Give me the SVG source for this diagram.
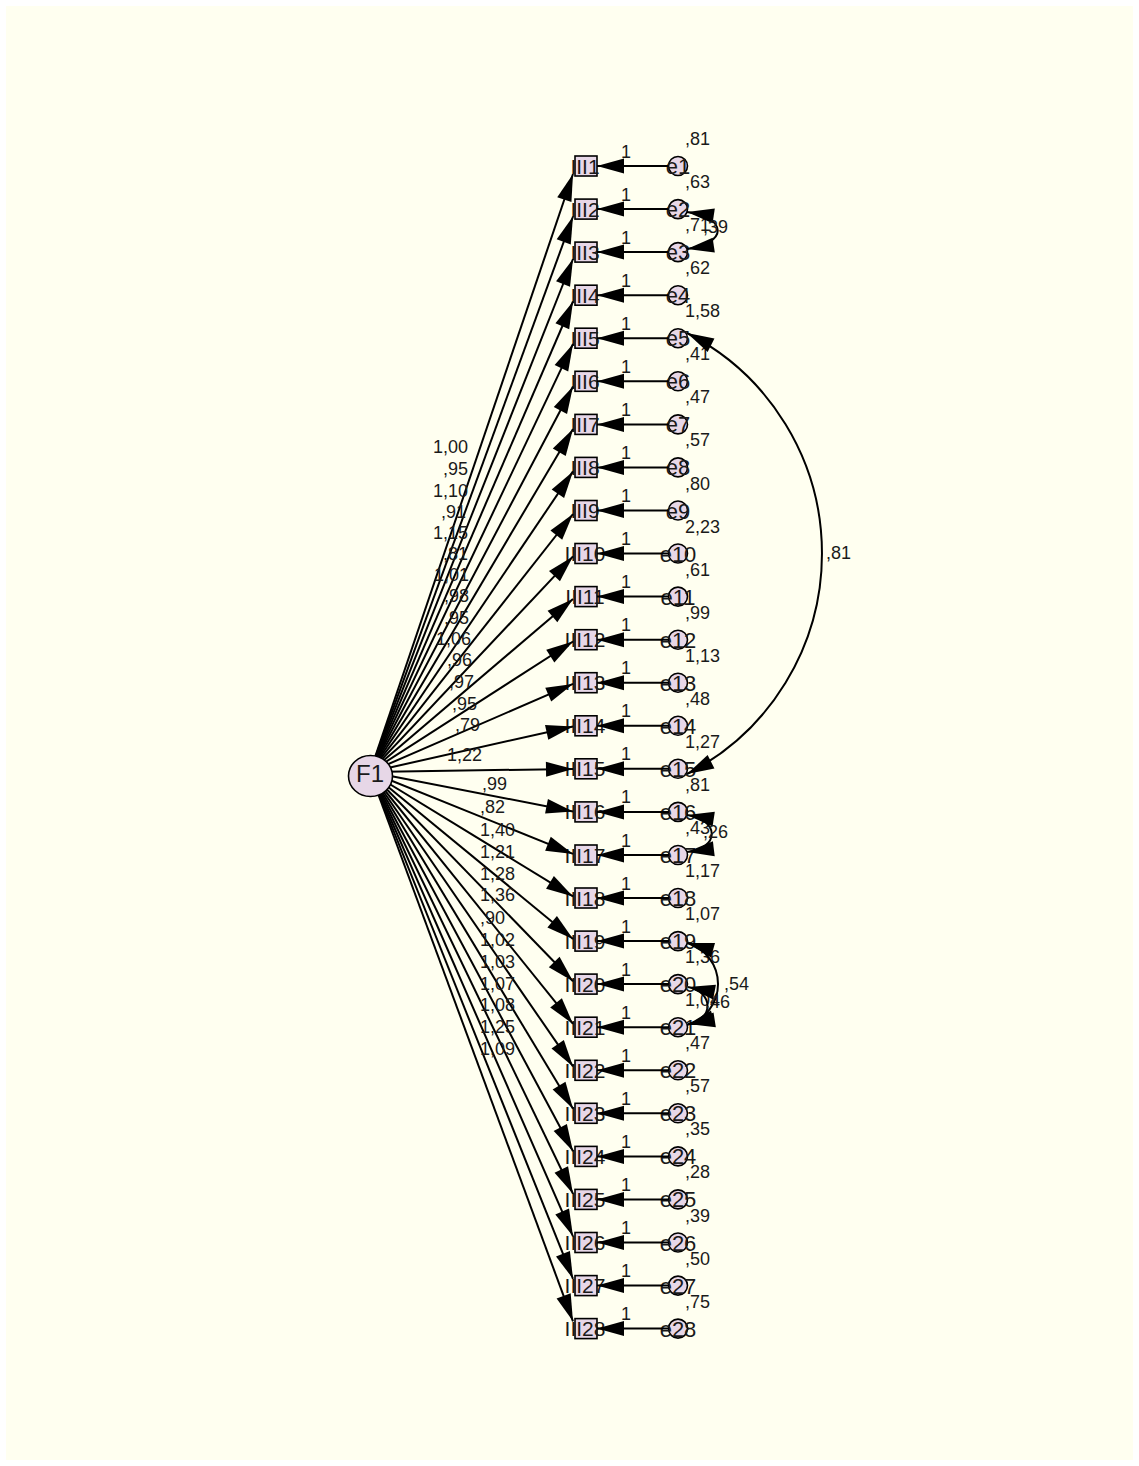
<svg xmlns="http://www.w3.org/2000/svg" width="1139" height="1466" viewBox="0 0 1139 1466">
<style>
text{font-family:"Liberation Sans",Arial,sans-serif;fill:#1a1a1a}
.item rect{fill:#E7D7E7;stroke:#000;stroke-width:1.6}
.item text{font-size:21px;text-anchor:middle}
.err circle{fill:#E7D7E7;stroke:#000;stroke-width:1.6}
.err text{font-size:22px;text-anchor:middle}
.err text.v{font-size:18px;text-anchor:start}
.ld{stroke:#000;stroke-width:2;fill:none;marker-end:url(#ah)}
.cv{stroke:#000;stroke-width:2;fill:none;marker-end:url(#ah);marker-start:url(#ahs)}
.one{font-size:18px;text-anchor:middle}
.lt{font-size:18px;text-anchor:end}
.lb{font-size:18px;text-anchor:start}
</style>
<defs>
<marker id="ah" markerUnits="userSpaceOnUse" markerWidth="30" markerHeight="18" refX="27" refY="7.5" orient="auto" overflow="visible"><path d="M0,0 L27,7.5 L0,15 z" fill="#000"/></marker>
<marker id="ahs" markerUnits="userSpaceOnUse" markerWidth="30" markerHeight="18" refX="27" refY="7.5" orient="auto-start-reverse" overflow="visible"><path d="M0,0 L27,7.5 L0,15 z" fill="#000"/></marker>
</defs>
<rect x="0" y="0" width="1139" height="1466" fill="#ffffff"/>
<rect x="6" y="6" width="1127" height="1454" fill="#FFFFF0"/>

<g id="items">
<g id="III1" class="item"><rect x="575" y="156" width="22" height="20"/><text x="585" y="173.5">III1</text></g>
<g id="III2" class="item"><rect x="575" y="199.1" width="22" height="20"/><text x="585" y="216.6">III2</text></g>
<g id="III3" class="item"><rect x="575" y="242.1" width="22" height="20"/><text x="585" y="259.6">III3</text></g>
<g id="III4" class="item"><rect x="575" y="285.2" width="22" height="20"/><text x="585" y="302.7">III4</text></g>
<g id="III5" class="item"><rect x="575" y="328.2" width="22" height="20"/><text x="585" y="345.7">III5</text></g>
<g id="III6" class="item"><rect x="575" y="371.3" width="22" height="20"/><text x="585" y="388.8">III6</text></g>
<g id="III7" class="item"><rect x="575" y="414.4" width="22" height="20"/><text x="585" y="431.9">III7</text></g>
<g id="III8" class="item"><rect x="575" y="457.4" width="22" height="20"/><text x="585" y="474.9">III8</text></g>
<g id="III9" class="item"><rect x="575" y="500.5" width="22" height="20"/><text x="585" y="518">III9</text></g>
<g id="III10" class="item"><rect x="575" y="543.5" width="22" height="20"/><text x="585" y="561">III10</text></g>
<g id="III11" class="item"><rect x="575" y="586.6" width="22" height="20"/><text x="585" y="604.1">III11</text></g>
<g id="III12" class="item"><rect x="575" y="629.7" width="22" height="20"/><text x="585" y="647.2">III12</text></g>
<g id="III13" class="item"><rect x="575" y="672.7" width="22" height="20"/><text x="585" y="690.2">III13</text></g>
<g id="III14" class="item"><rect x="575" y="715.8" width="22" height="20"/><text x="585" y="733.3">III14</text></g>
<g id="III15" class="item"><rect x="575" y="758.8" width="22" height="20"/><text x="585" y="776.3">III15</text></g>
<g id="III16" class="item"><rect x="575" y="801.9" width="22" height="20"/><text x="585" y="819.4">III16</text></g>
<g id="III17" class="item"><rect x="575" y="845" width="22" height="20"/><text x="585" y="862.5">III17</text></g>
<g id="III18" class="item"><rect x="575" y="888" width="22" height="20"/><text x="585" y="905.5">III18</text></g>
<g id="III19" class="item"><rect x="575" y="931.1" width="22" height="20"/><text x="585" y="948.6">III19</text></g>
<g id="III20" class="item"><rect x="575" y="974.1" width="22" height="20"/><text x="585" y="991.6">III20</text></g>
<g id="III21" class="item"><rect x="575" y="1017.2" width="22" height="20"/><text x="585" y="1034.7">III21</text></g>
<g id="III22" class="item"><rect x="575" y="1060.3" width="22" height="20"/><text x="585" y="1077.8">III22</text></g>
<g id="III23" class="item"><rect x="575" y="1103.3" width="22" height="20"/><text x="585" y="1120.8">III23</text></g>
<g id="III24" class="item"><rect x="575" y="1146.4" width="22" height="20"/><text x="585" y="1163.9">III24</text></g>
<g id="III25" class="item"><rect x="575" y="1189.4" width="22" height="20"/><text x="585" y="1206.9">III25</text></g>
<g id="III26" class="item"><rect x="575" y="1232.5" width="22" height="20"/><text x="585" y="1250">III26</text></g>
<g id="III27" class="item"><rect x="575" y="1275.6" width="22" height="20"/><text x="585" y="1293.1">III27</text></g>
<g id="III28" class="item"><rect x="575" y="1318.6" width="22" height="20"/><text x="585" y="1336.1">III28</text></g>
</g>

<g id="errors">
<g id="e1" class="err"><circle cx="678" cy="166" r="9.5"/><text x="678" y="174">e1</text><text class="v" x="685" y="145">,81</text></g>
<g id="e2" class="err"><circle cx="678" cy="209.1" r="9.5"/><text x="678" y="217.1">e2</text><text class="v" x="685" y="188.1">,63</text></g>
<g id="e3" class="err"><circle cx="678" cy="252.1" r="9.5"/><text x="678" y="260.1">e3</text><text class="v" x="685" y="231.1">,71</text></g>
<g id="e4" class="err"><circle cx="678" cy="295.2" r="9.5"/><text x="678" y="303.2">e4</text><text class="v" x="685" y="274.2">,62</text></g>
<g id="e5" class="err"><circle cx="678" cy="338.2" r="9.5"/><text x="678" y="346.2">e5</text><text class="v" x="685" y="317.2">1,58</text></g>
<g id="e6" class="err"><circle cx="678" cy="381.3" r="9.5"/><text x="678" y="389.3">e6</text><text class="v" x="685" y="360.3">,41</text></g>
<g id="e7" class="err"><circle cx="678" cy="424.4" r="9.5"/><text x="678" y="432.4">e7</text><text class="v" x="685" y="403.4">,47</text></g>
<g id="e8" class="err"><circle cx="678" cy="467.4" r="9.5"/><text x="678" y="475.4">e8</text><text class="v" x="685" y="446.4">,57</text></g>
<g id="e9" class="err"><circle cx="678" cy="510.5" r="9.5"/><text x="678" y="518.5">e9</text><text class="v" x="685" y="489.5">,80</text></g>
<g id="e10" class="err"><circle cx="678" cy="553.5" r="9.5"/><text x="678" y="561.5">e10</text><text class="v" x="685" y="532.5">2,23</text></g>
<g id="e11" class="err"><circle cx="678" cy="596.6" r="9.5"/><text x="678" y="604.6">e11</text><text class="v" x="685" y="575.6">,61</text></g>
<g id="e12" class="err"><circle cx="678" cy="639.7" r="9.5"/><text x="678" y="647.7">e12</text><text class="v" x="685" y="618.7">,99</text></g>
<g id="e13" class="err"><circle cx="678" cy="682.7" r="9.5"/><text x="678" y="690.7">e13</text><text class="v" x="685" y="661.7">1,13</text></g>
<g id="e14" class="err"><circle cx="678" cy="725.8" r="9.5"/><text x="678" y="733.8">e14</text><text class="v" x="685" y="704.8">,48</text></g>
<g id="e15" class="err"><circle cx="678" cy="768.8" r="9.5"/><text x="678" y="776.8">e15</text><text class="v" x="685" y="747.8">1,27</text></g>
<g id="e16" class="err"><circle cx="678" cy="811.9" r="9.5"/><text x="678" y="819.9">e16</text><text class="v" x="685" y="790.9">,81</text></g>
<g id="e17" class="err"><circle cx="678" cy="855" r="9.5"/><text x="678" y="863">e17</text><text class="v" x="685" y="834">,43</text></g>
<g id="e18" class="err"><circle cx="678" cy="898" r="9.5"/><text x="678" y="906">e18</text><text class="v" x="685" y="877">1,17</text></g>
<g id="e19" class="err"><circle cx="678" cy="941.1" r="9.5"/><text x="678" y="949.1">e19</text><text class="v" x="685" y="920.1">1,07</text></g>
<g id="e20" class="err"><circle cx="678" cy="984.1" r="9.5"/><text x="678" y="992.1">e20</text><text class="v" x="685" y="963.1">1,36</text></g>
<g id="e21" class="err"><circle cx="678" cy="1027.2" r="9.5"/><text x="678" y="1035.2">e21</text><text class="v" x="685" y="1006.2">1,04</text></g>
<g id="e22" class="err"><circle cx="678" cy="1070.3" r="9.5"/><text x="678" y="1078.3">e22</text><text class="v" x="685" y="1049.3">,47</text></g>
<g id="e23" class="err"><circle cx="678" cy="1113.3" r="9.5"/><text x="678" y="1121.3">e23</text><text class="v" x="685" y="1092.3">,57</text></g>
<g id="e24" class="err"><circle cx="678" cy="1156.4" r="9.5"/><text x="678" y="1164.4">e24</text><text class="v" x="685" y="1135.4">,35</text></g>
<g id="e25" class="err"><circle cx="678" cy="1199.4" r="9.5"/><text x="678" y="1207.4">e25</text><text class="v" x="685" y="1178.4">,28</text></g>
<g id="e26" class="err"><circle cx="678" cy="1242.5" r="9.5"/><text x="678" y="1250.5">e26</text><text class="v" x="685" y="1221.5">,39</text></g>
<g id="e27" class="err"><circle cx="678" cy="1285.6" r="9.5"/><text x="678" y="1293.6">e27</text><text class="v" x="685" y="1264.6">,50</text></g>
<g id="e28" class="err"><circle cx="678" cy="1328.6" r="9.5"/><text x="678" y="1336.6">e28</text><text class="v" x="685" y="1307.6">,75</text></g>
</g>

<g id="connectors">
<path class="ld" d="M370,772 L573,174"/>
<path class="ld" d="M370,772 L573,216.5"/>
<path class="ld" d="M370,772 L573,259"/>
<path class="ld" d="M370,772 L573,301.5"/>
<path class="ld" d="M370,772 L573,343.9"/>
<path class="ld" d="M370,772 L573,386.5"/>
<path class="ld" d="M370,772 L573,429"/>
<path class="ld" d="M370,772 L573,471.4"/>
<path class="ld" d="M370,772 L573,514"/>
<path class="ld" d="M370,772 L573,556.4"/>
<path class="ld" d="M370,772 L573,598.9"/>
<path class="ld" d="M370,772 L573,641.5"/>
<path class="ld" d="M370,772 L573,683.9"/>
<path class="ld" d="M370,772 L573,726.4"/>
<path class="ld" d="M370,772 L573,768.9"/>
<path class="ld" d="M370,772 L573,811.4"/>
<path class="ld" d="M370,772 L573,853.9"/>
<path class="ld" d="M370,772 L573,896.4"/>
<path class="ld" d="M370,772 L573,938.9"/>
<path class="ld" d="M370,772 L573,981.3"/>
<path class="ld" d="M370,772 L573,1023.9"/>
<path class="ld" d="M370,772 L573,1066.4"/>
<path class="ld" d="M370,772 L573,1108.8"/>
<path class="ld" d="M370,772 L573,1151.3"/>
<path class="ld" d="M370,772 L573,1193.8"/>
<path class="ld" d="M370,772 L573,1236.3"/>
<path class="ld" d="M370,772 L573,1278.8"/>
<path class="ld" d="M370,772 L573,1321.3"/>

<path class="ld" d="M668.5,166 L597,166"/>
<path class="ld" d="M668.5,209.1 L597,209.1"/>
<path class="ld" d="M668.5,252.1 L597,252.1"/>
<path class="ld" d="M668.5,295.2 L597,295.2"/>
<path class="ld" d="M668.5,338.2 L597,338.2"/>
<path class="ld" d="M668.5,381.3 L597,381.3"/>
<path class="ld" d="M668.5,424.4 L597,424.4"/>
<path class="ld" d="M668.5,467.4 L597,467.4"/>
<path class="ld" d="M668.5,510.5 L597,510.5"/>
<path class="ld" d="M668.5,553.5 L597,553.5"/>
<path class="ld" d="M668.5,596.6 L597,596.6"/>
<path class="ld" d="M668.5,639.7 L597,639.7"/>
<path class="ld" d="M668.5,682.7 L597,682.7"/>
<path class="ld" d="M668.5,725.8 L597,725.8"/>
<path class="ld" d="M668.5,768.8 L597,768.8"/>
<path class="ld" d="M668.5,811.9 L597,811.9"/>
<path class="ld" d="M668.5,855 L597,855"/>
<path class="ld" d="M668.5,898 L597,898"/>
<path class="ld" d="M668.5,941.1 L597,941.1"/>
<path class="ld" d="M668.5,984.1 L597,984.1"/>
<path class="ld" d="M668.5,1027.2 L597,1027.2"/>
<path class="ld" d="M668.5,1070.3 L597,1070.3"/>
<path class="ld" d="M668.5,1113.3 L597,1113.3"/>
<path class="ld" d="M668.5,1156.4 L597,1156.4"/>
<path class="ld" d="M668.5,1199.4 L597,1199.4"/>
<path class="ld" d="M668.5,1242.5 L597,1242.5"/>
<path class="ld" d="M668.5,1285.6 L597,1285.6"/>
<path class="ld" d="M668.5,1328.6 L597,1328.6"/>

<path class="cv" d="M687,212 C728,218 728,243 687,249"/>
<path class="cv" d="M687,333 A247.6 247.6 0 0 1 687,774"/>
<path class="cv" d="M687,815 C720,820 720,848 687,852"/>
<path class="cv" d="M687,943 A42.6 42.6 0 0 1 687,1025"/>
<path class="cv" d="M688,987 C714,992 714,1020 688,1024"/>

<text class="one" x="626" y="157.5">1</text>
<text class="one" x="626" y="200.6">1</text>
<text class="one" x="626" y="243.6">1</text>
<text class="one" x="626" y="286.7">1</text>
<text class="one" x="626" y="329.7">1</text>
<text class="one" x="626" y="372.8">1</text>
<text class="one" x="626" y="415.9">1</text>
<text class="one" x="626" y="458.9">1</text>
<text class="one" x="626" y="502">1</text>
<text class="one" x="626" y="545">1</text>
<text class="one" x="626" y="588.1">1</text>
<text class="one" x="626" y="631.2">1</text>
<text class="one" x="626" y="674.2">1</text>
<text class="one" x="626" y="717.3">1</text>
<text class="one" x="626" y="760.3">1</text>
<text class="one" x="626" y="803.4">1</text>
<text class="one" x="626" y="846.5">1</text>
<text class="one" x="626" y="889.5">1</text>
<text class="one" x="626" y="932.6">1</text>
<text class="one" x="626" y="975.6">1</text>
<text class="one" x="626" y="1018.7">1</text>
<text class="one" x="626" y="1061.8">1</text>
<text class="one" x="626" y="1104.8">1</text>
<text class="one" x="626" y="1147.9">1</text>
<text class="one" x="626" y="1190.9">1</text>
<text class="one" x="626" y="1234">1</text>
<text class="one" x="626" y="1277.1">1</text>
<text class="one" x="626" y="1320.1">1</text>

<text class="lt" x="468" y="453">1,00</text>
<text class="lt" x="468" y="475">,95</text>
<text class="lt" x="468" y="497">1,10</text>
<text class="lt" x="466" y="518">,91</text>
<text class="lt" x="468" y="539">1,15</text>
<text class="lt" x="468" y="560">,81</text>
<text class="lt" x="469" y="581">1,01</text>
<text class="lt" x="469" y="602">,98</text>
<text class="lt" x="469" y="624">,95</text>
<text class="lt" x="471" y="645">1,06</text>
<text class="lt" x="472" y="666">,96</text>
<text class="lt" x="474" y="688">,97</text>
<text class="lt" x="477" y="710">,95</text>
<text class="lt" x="480" y="731">,79</text>
<text class="lb" x="447" y="761">1,22</text>
<text class="lb" x="482" y="790">,99</text>
<text class="lb" x="480" y="813">,82</text>
<text class="lb" x="480" y="836">1,40</text>
<text class="lb" x="480" y="858">1,21</text>
<text class="lb" x="480" y="880">1,28</text>
<text class="lb" x="480" y="901">1,36</text>
<text class="lb" x="480" y="924">,90</text>
<text class="lb" x="480" y="946">1,02</text>
<text class="lb" x="480" y="968">1,03</text>
<text class="lb" x="480" y="990">1,07</text>
<text class="lb" x="480" y="1011">1,08</text>
<text class="lb" x="480" y="1033">1,25</text>
<text class="lb" x="480" y="1055">1,09</text>

<text class="lb" x="703" y="233">,39</text>
<text class="lb" x="826" y="559">,81</text>
<text class="lb" x="703" y="838">,26</text>
<text class="lb" x="724" y="990">,54</text>
<text class="lb" x="705" y="1008">,46</text>
</g>

<g id="F1">
<ellipse cx="370.5" cy="776" rx="22" ry="20.5" fill="#E7D7E7" stroke="#000" stroke-width="1.6"/>
<text x="370" y="782" font-size="24" text-anchor="middle">F1</text>
</g>
</svg>
